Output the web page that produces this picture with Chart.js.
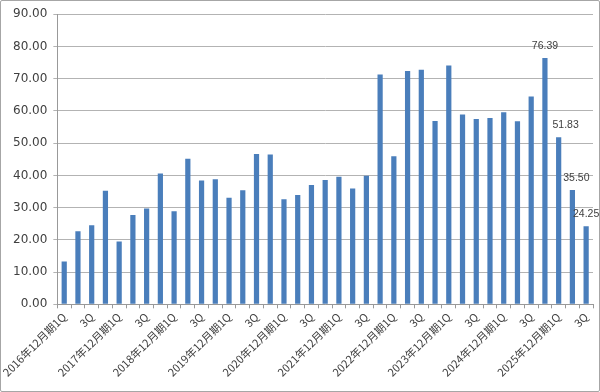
<!DOCTYPE html>
<html>
<head>
<meta charset="utf-8">
<script src="https://cdn.jsdelivr.net/npm/chart.js@4"></script>
<style>
  html, body { margin: 0; padding: 0; background: #fff; }
  .frame { position: absolute; left: 0; top: 0; width: 598px; height: 390px; border: 1px solid #a6a6a6; border-radius: 2px; }
  canvas { display: block; }
</style>
</head>
<body>
<div class="frame"><canvas id="chart" width="598" height="390"></canvas></div>
<script>
// quarters, 2016 1Q .. 2025 3Q
const years = ['2016', '2017', '2018', '2019', '2020', '2021', '2022', '2023', '2024', '2025'];
const quarters = ['1Q', '2Q', '3Q', '4Q'];
const categories = [];
years.forEach(y => quarters.forEach(q => {
    if (y === '2025' && q === '4Q') return;
    categories.push(q === '1Q' ? y + '年12月期1Q' : q);
}));

const values = [
    13.3, 22.7, 24.5, 35.2,
    19.5, 27.7, 29.7, 40.6,
    28.9, 45.2, 38.4, 38.8,
    33.1, 35.4, 46.6, 46.5,
    32.6, 33.9, 37.0, 38.6,
    39.6, 35.9, 39.9, 71.3,
    45.9, 72.4, 72.8, 56.9,
    74.1, 58.9, 57.5, 57.8,
    59.6, 56.8, 64.5, 76.39,
    51.83, 35.50, 24.25
];

// only the last four bars carry a value label
const labelledFrom = 35;
const labelShift = [0, 7, 4, 0];

const valueLabels = {
    id: 'valueLabels',
    afterDatasetsDraw(chart) {
        const ctx = chart.ctx;
        const bars = chart.getDatasetMeta(0).data;
        ctx.save();
        ctx.font = '10.5px "Liberation Sans", Arial, sans-serif';
        ctx.fillStyle = '#404040';
        ctx.textAlign = 'center';
        ctx.textBaseline = 'bottom';
        for (let i = labelledFrom; i < bars.length; i++) {
            const b = bars[i];
            ctx.fillText(values[i].toFixed(2), b.x + labelShift[i - labelledFrom], b.y - 7);
        }
        ctx.restore();
    }
};

new Chart(document.getElementById('chart'), {
    type: 'bar',
    data: {
        labels: categories,
        datasets: [{
            data: values,
            backgroundColor: '#4a7ebb',
            borderWidth: 0,
            barPercentage: 0.38,
            categoryPercentage: 1.0
        }]
    },
    plugins: [valueLabels],
    options: {
        responsive: false,
        animation: false,
        layout: { padding: { top: 7, right: 6, left: 6, bottom: 10 } },
        plugins: {
            legend: { display: false },
            tooltip: { enabled: false }
        },
        scales: {
            x: {
                // let the first rotated label run under the y labels
                afterFit: s => { s.paddingLeft = 0; },
                grid: {
                    offset: true,
                    drawOnChartArea: false,
                    drawTicks: true,
                    tickLength: 4,
                    color: '#999'
                },
                border: { color: '#999' },
                ticks: {
                    autoSkip: false,
                    maxRotation: 45,
                    minRotation: 45,
                    padding: 2,
                    color: '#404040',
                    font: { family: '"Noto Sans CJK JP", sans-serif', size: 11 },
                    callback: function (v, i) {
                        return i % 2 === 0 ? this.getLabelForValue(v) : '';
                    }
                }
            },
            y: {
                min: 0,
                max: 90,
                grid: {
                    color: '#b3b3b3',
                    tickLength: 4
                },
                border: { color: '#999' },
                ticks: {
                    stepSize: 10,
                    padding: 6,
                    color: '#404040',
                    font: { family: '"DejaVu Sans", Verdana, sans-serif', size: 12 },
                    callback: v => v.toFixed(2)
                }
            }
        }
    }
});
</script>
</body>
</html>
